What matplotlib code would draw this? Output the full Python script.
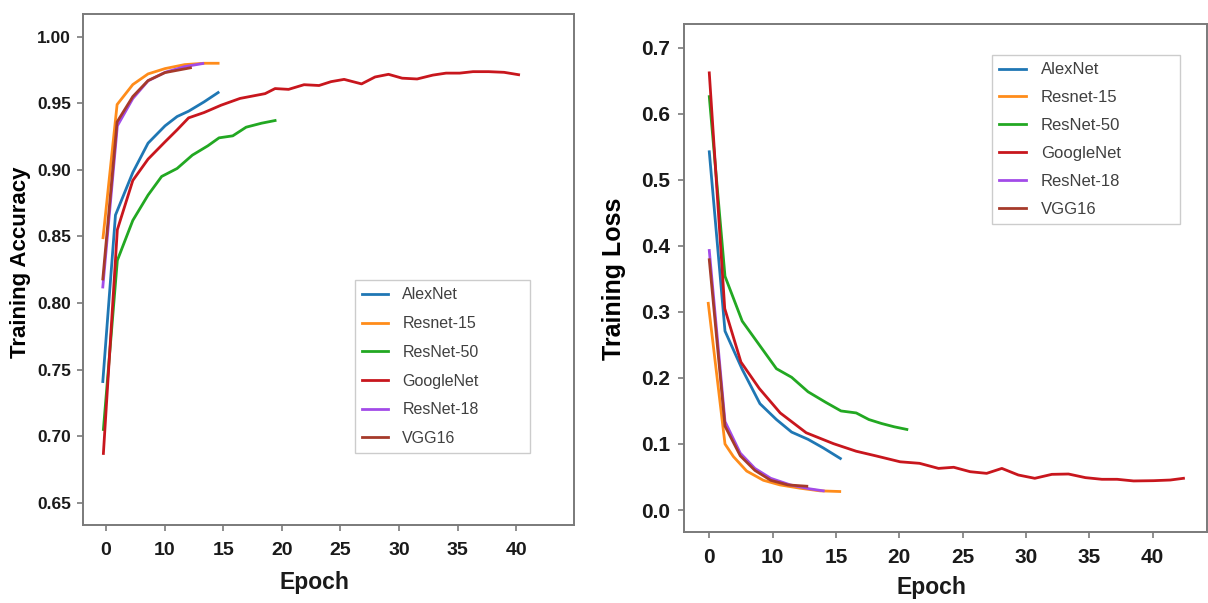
import matplotlib
matplotlib.use("Agg")
import matplotlib.pyplot as plt

FONT = ["Liberation Sans", "DejaVu Sans"]

models = ["AlexNet", "Resnet-15", "ResNet-50", "GoogleNet", "ResNet-18", "VGG16"]
colors = ["#1f77b4", "#ff8c1a", "#22a822", "#c8161d", "#a24be8", "#a63a2a"]

# x tick labels as printed in the source figure (evenly spaced)
xtick_labels = ["0", "10", "15", "20", "25", "30", "35", "40"]

# ---- training accuracy (left panel) ----
acc_x = {
    "AlexNet": [-0.28, 0.80, 2.28, 3.58, 5.03, 6.06, 7.04, 8.36, 9.56],
    "Resnet-15": [-0.26, 0.94, 2.28, 3.58, 5.03, 6.71, 8.36, 9.56],
    "ResNet-50": [-0.23, 0.96, 2.28, 3.58, 4.74, 6.06, 7.36, 8.68, 9.64,
                  10.81, 11.95, 13.27, 14.42],
    "GoogleNet": [-0.23, 0.96, 2.28, 3.58, 5.03, 6.06, 7.04, 8.36, 9.81,
                  11.43, 13.57, 14.42, 15.57, 16.89, 18.17, 19.20, 20.31,
                  21.80, 22.95, 24.10, 25.26, 26.54, 27.88, 29.01, 30.17,
                  31.31, 32.64, 33.96, 35.20],
    "ResNet-18": [-0.28, 0.96, 2.28, 3.58, 5.03, 6.71, 8.25],
    "VGG16": [-0.28, 0.94, 2.28, 3.58, 5.03, 7.20],
}
acc_y = {
    "AlexNet": [0.741, 0.866, 0.898, 0.920, 0.933, 0.940, 0.944, 0.951, 0.958],
    "Resnet-15": [0.849, 0.949, 0.964, 0.972, 0.976, 0.979, 0.980, 0.980],
    "ResNet-50": [0.705, 0.832, 0.862, 0.881, 0.895, 0.901, 0.911, 0.918,
                  0.924, 0.9255, 0.932, 0.935, 0.937],
    "GoogleNet": [0.687, 0.855, 0.892, 0.908, 0.921, 0.930, 0.939, 0.943,
                  0.9485, 0.9536, 0.9572, 0.961, 0.9604, 0.9639, 0.9633,
                  0.9662, 0.9679, 0.9645, 0.9697, 0.9717, 0.9688, 0.9682,
                  0.9711, 0.9726, 0.9726, 0.9737, 0.9737, 0.9732, 0.9714],
    "ResNet-18": [0.812, 0.933, 0.9535, 0.9668, 0.9732, 0.9775, 0.9798],
    "VGG16": [0.818, 0.936, 0.955, 0.967, 0.973, 0.9766],
}

# ---- training loss (right panel) ----
loss_x = {
    "AlexNet": [0, 1.24, 2.6, 4.0, 5.3, 6.5, 7.8, 9.0, 10.35],
    "Resnet-15": [-0.08, 1.24, 1.9, 2.95, 4.27, 5.58, 7.16, 8.74, 10.3],
    "ResNet-50": [0, 1.24, 2.6, 4.1, 5.3, 6.5, 7.8, 9.2, 10.4, 11.6, 12.6,
                  13.6, 14.6, 15.6],
    "GoogleNet": [0, 1.22, 2.5, 3.95, 5.6, 7.65, 9.8, 11.6, 13.15, 15.07,
                  16.6, 18.1, 19.3, 20.6, 21.9, 23.1, 24.4, 25.7, 27.05,
                  28.36, 29.7, 31.0, 32.2, 33.5, 35.07, 36.4, 37.44],
    "ResNet-18": [0, 1.24, 2.45, 3.6, 4.85, 6.4, 7.95, 9.0],
    "VGG16": [0, 1.24, 2.45, 3.6, 4.85, 6.2, 7.7],
}
loss_y = {
    "AlexNet": [0.5425, 0.271, 0.213, 0.161, 0.137, 0.118, 0.107, 0.094, 0.078],
    "Resnet-15": [0.313, 0.100, 0.081, 0.059, 0.045, 0.038, 0.033, 0.029, 0.028],
    "ResNet-50": [0.626, 0.354, 0.286, 0.246, 0.214, 0.201, 0.179, 0.163,
                  0.150, 0.147, 0.137, 0.131, 0.126, 0.122],
    "GoogleNet": [0.662, 0.305, 0.224, 0.184, 0.147, 0.117, 0.1005, 0.089,
                  0.082, 0.073, 0.0707, 0.063, 0.0647, 0.058, 0.0555, 0.063,
                  0.053, 0.048, 0.054, 0.0545, 0.049, 0.0465, 0.0465, 0.044,
                  0.0444, 0.0454, 0.048],
    "ResNet-18": [0.393, 0.134, 0.086, 0.063, 0.048, 0.038, 0.032, 0.029],
    "VGG16": [0.379, 0.127, 0.082, 0.060, 0.045, 0.038, 0.036],
}

acc_yticks = [0.65, 0.70, 0.75, 0.80, 0.85, 0.90, 0.95, 1.00]
loss_yticks = [0.0, 0.1, 0.2, 0.3, 0.4, 0.5, 0.6, 0.7]


def style_axes(ax, size_x, size_y, pad_y):
    for sp in ax.spines.values():
        sp.set_color("#7a7a7a")
        sp.set_linewidth(1.4)
    ax.tick_params(direction="out", length=4, width=1.2, color="#7a7a7a")
    ax.tick_params(axis="x", pad=8)
    ax.tick_params(axis="y", pad=pad_y)
    for lab in ax.get_xticklabels():
        lab.set_fontfamily(FONT)
        lab.set_fontweight("bold")
        lab.set_fontsize(size_x)
        lab.set_color("#1a1a1a")
    for lab in ax.get_yticklabels():
        lab.set_fontfamily(FONT)
        lab.set_fontweight("bold")
        lab.set_fontsize(size_y)
        lab.set_color("#1a1a1a")


def add_legend(ax, anchor, size, spacing):
    ax.legend(loc="upper left", bbox_to_anchor=anchor, mode="expand",
              borderaxespad=0, prop={"family": FONT, "size": size},
              labelcolor="#404040", handlelength=1.6, handletextpad=0.9,
              borderpad=0.45, labelspacing=spacing, framealpha=1,
              edgecolor="#cccccc", fancybox=False)


fig = plt.figure(figsize=(12.08, 6.03), dpi=100)
ax1 = fig.add_axes([0.0690, 0.1294, 0.4062, 0.8474])
ax2 = fig.add_axes([0.5665, 0.1182, 0.4327, 0.8420])

for name, c in zip(models, colors):
    ax1.plot(acc_x[name], acc_y[name], color=c, lw=2.0, label=name)
    ax2.plot(loss_x[name], loss_y[name], color=c, lw=2.0, label=name)

# left panel
ax1.set_xlim(-1.94, 39.93)
ax1.set_ylim(0.6333, 1.017)
ax1.set_xticks(range(0, 40, 5))
ax1.set_xticklabels(xtick_labels)
ax1.set_yticks(acc_yticks)
ax1.set_yticklabels([f"{v:.2f}" for v in acc_yticks])
style_axes(ax1, 14, 12.5, 4.8)
ax1.set_ylabel("Training Accuracy", family=FONT, fontweight="bold",
               fontsize=16, va="center")
ax1.yaxis.set_label_coords(-0.129, 0.515)
ax1.set_xlabel("Epoch", family=FONT, fontweight="bold", fontsize=16.5,
               va="center", color="#1a1a1a")
ax1.xaxis.set_label_coords(0.470, -0.1135)
add_legend(ax1, (0.554, 0.479, 0.356, 0.0), 11.5, 0.86)

# right panel
ax2.set_xlim(-1.97, 39.3)
ax2.set_ylim(-0.0329, 0.736)
ax2.set_xticks(range(0, 40, 5))
ax2.set_xticklabels(xtick_labels)
ax2.set_yticks(loss_yticks)
ax2.set_yticklabels([f"{v:.1f}" for v in loss_yticks])
style_axes(ax2, 15, 15, 6)
ax2.set_ylabel("Training Loss", family=FONT, fontweight="bold",
               fontsize=18, va="center")
ax2.yaxis.set_label_coords(-0.1345, 0.498)
ax2.set_xlabel("Epoch", family=FONT, fontweight="bold", fontsize=16.5,
               va="center", color="#1a1a1a")
ax2.xaxis.set_label_coords(0.473, -0.11)
add_legend(ax2, (0.588, 0.939, 0.360, 0.0), 12, 0.77)

fig.savefig("out.png", dpi=100)
